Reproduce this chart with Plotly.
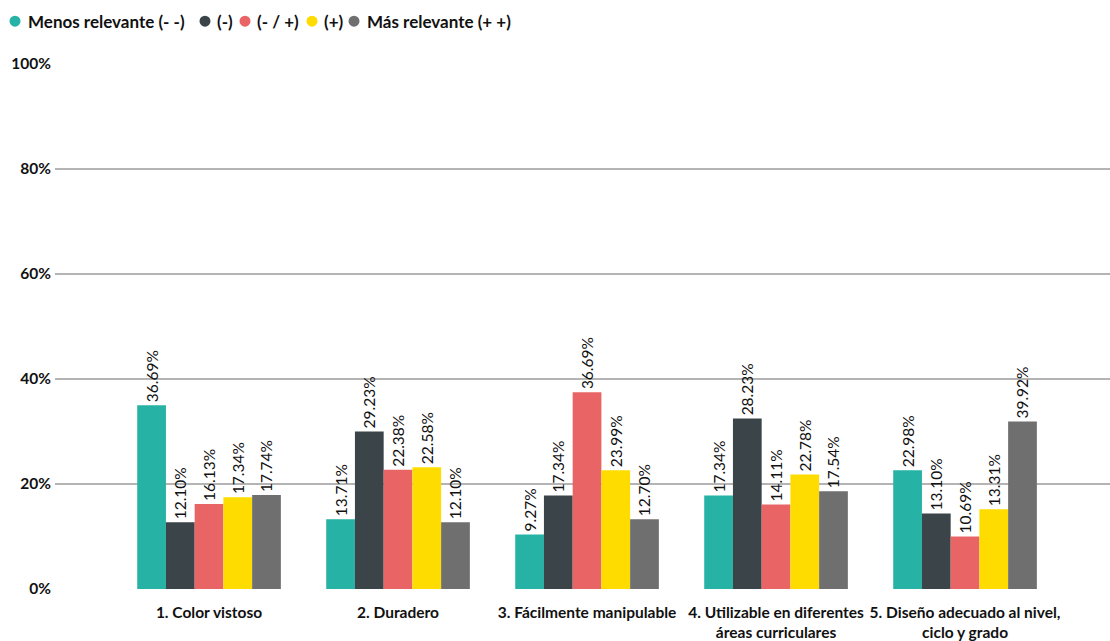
import plotly.graph_objects as go

categories = ["1. Color vistoso", "2. Duradero", "3. Fácilmente manipulable",
              "4. Utilizable en diferentes<br>áreas curriculares",
              "5. Diseño adecuado al nivel,<br>ciclo y grado"]
series_names = ["Menos relevante (- -)", "(-)", "(- / +)", "(+)", "Más relevante (+ +)"]
colors = ["#26B2A5", "#3A4449", "#E96465", "#FFDC00", "#6F6F6F"]

# bar heights as drawn in the picture (%)
heights = [
    [35.0, 13.3, 10.4, 17.8, 22.6],
    [12.7, 30.0, 17.8, 32.5, 14.4],
    [16.2, 22.7, 37.5, 16.1, 10.0],
    [17.5, 23.2, 22.6, 21.8, 15.2],
    [17.9, 12.7, 13.3, 18.6, 31.9],
]
# data labels as printed
labels = [
    ["36.69%", "13.71%", "9.27%", "17.34%", "22.98%"],
    ["12.10%", "29.23%", "17.34%", "28.23%", "13.10%"],
    ["16.13%", "22.38%", "36.69%", "14.11%", "10.69%"],
    ["17.34%", "22.58%", "23.99%", "22.78%", "13.31%"],
    ["17.74%", "12.10%", "12.70%", "17.54%", "39.92%"],
]
y_ticks = [0, 20, 40, 60, 80, 100]

FONT = "Lato"
W, H = 1110, 641
ML, MR, MT, MB = 55, 0, 64, 50
x_pos = list(range(len(categories)))

fig = go.Figure()
for name, col, h, lab in zip(series_names, colors, heights, labels):
    fig.add_trace(go.Bar(
        x=x_pos, y=h, name=name, marker=dict(color=col, line=dict(width=0)),
        text=lab, textposition="outside", textangle=-90, constraintext="none",
        textfont=dict(family=FONT, size=15.5, color="#111111"),
        cliponaxis=False, showlegend=False,
    ))

# legend row (circle + bold label), laid out in pixels like the original
def px_x(px):
    return (px - ML) / (W - ML - MR)

def px_y(py):
    return (H - MB - py) / (H - MT - MB)

legend_dot_x = [15, 205, 245, 312, 354]
legend_text_x = [26, 215, 255, 322, 365]
legend_y = 21
shapes, annotations = [], []
for name, col, dx, tx in zip(series_names, colors, legend_dot_x, legend_text_x):
    shapes.append(dict(type="circle", xref="paper", yref="paper",
                       xsizemode="pixel", ysizemode="pixel",
                       xanchor=px_x(dx), yanchor=px_y(legend_y),
                       x0=-5.5, x1=5.5, y0=-5.5, y1=5.5,
                       fillcolor=col, line=dict(width=0)))
    annotations.append(dict(text=name, xref="paper", yref="paper",
                            x=px_x(tx), y=px_y(legend_y),
                            xanchor="left", yanchor="middle", showarrow=False,
                            font=dict(family=FONT, size=17, color="#111111", weight="bold")))

fig.update_layout(
    width=W, height=H,
    margin=dict(l=ML, r=MR, t=MT, b=MB),
    paper_bgcolor="white", plot_bgcolor="white",
    barmode="group", bargap=0.24, bargroupgap=0,
    font=dict(family=FONT, color="#111111"),
    showlegend=False,
    shapes=shapes, annotations=annotations,
    xaxis=dict(range=[-0.815, 4.767], tickvals=x_pos, ticktext=categories,
               tickfont=dict(family=FONT, size=15.5, color="#111111", weight="bold"),
               showgrid=False, zeroline=False, showline=False, ticks="",
               ticklabelstandoff=12),
    yaxis=dict(range=[0, 100], tickvals=y_ticks, ticktext=[f"{v}%" for v in y_ticks],
               tickfont=dict(family=FONT, size=15.5, color="#111111", weight="bold"),
               showgrid=True, gridcolor="#B4B4B4", gridwidth=1.6,
               zeroline=False, showline=False, ticks="", ticklabelstandoff=3),
)

fig.write_html("out.html", config={"displayModeBar": False},
               post_script="document.body.style.margin='0';document.body.style.overflow='hidden';")
